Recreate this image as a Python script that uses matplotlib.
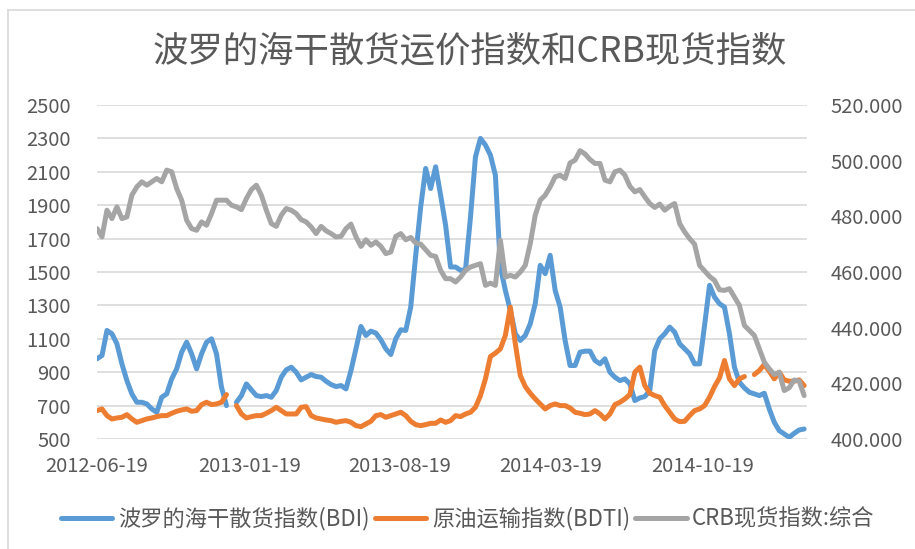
import numpy as np
import pandas as pd
import matplotlib
matplotlib.use("Agg")
import matplotlib.pyplot as plt
import matplotlib.dates as mdates
from matplotlib.lines import Line2D
from matplotlib.ticker import FixedLocator, FuncFormatter

plt.rcParams['font.family'] = ['Noto Sans CJK SC', 'DejaVu Sans']

title = "波罗的海干散货运价指数和CRB现货指数"
series_names = ["波罗的海干散货指数(BDI)", "原油运输指数(BDTI)", "CRB现货指数:综合"]
start_date = "2012-06-19"
x_tick_labels = ["2012-06-19", "2013-01-19", "2013-08-19", "2014-03-19", "2014-10-19"]
x_end_date = "2015-03-14"

nan = np.nan
bdi = [980, 1000, 1150, 1130, 1070, 950, 850, 770, 720, 720,
       710, 680, 660, 750, 770, 860, 920, 1020, 1080, 1010,
       920, 1010, 1080, 1100, 1010, 810, 700, nan, 720, 760,
       830, 794, 760, 754, 760, 750, 790, 870, 914, 930,
       900, 854, 870, 886, 874, 870, 846, 826, 814, 820,
       800, 910, 1040, 1174, 1120, 1146, 1134, 1094, 1040, 1006,
       1100, 1154, 1150, 1290, 1600, 1890, 2120, 2000, 2130, 1960,
       1780, 1530, 1530, 1510, 1514, 1830, 2190, 2300, 2260, 2200,
       2080, 1530, 1390, 1270, 1130, 1090, 1120, 1190, 1310, 1540,
       1490, 1600, 1390, 1290, 1090, 940, 940, 1020, 1026, 1026,
       970, 950, 980, 900, 870, 850, 860, 830, 730, 746,
       754, 790, 1030, 1100, 1130, 1170, 1140, 1070, 1040, 1010,
       950, 950, 1180, 1420, 1350, 1310, 1290, 1130, 930, 840,
       806, 780, 770, 760, 774, 680, 600, 550, 530, 510,
       534, 554, 560]

bdti = [670, 680, 640, 620, 626, 630, 646, 620, 600, 610,
        620, 626, 634, 640, 640, 654, 666, 674, 680, 666,
        670, 706, 720, 706, 710, 720, 766, nan, 700, 650,
        626, 634, 640, 640, 654, 670, 690, 670, 650, 650,
        650, 690, 694, 640, 626, 620, 614, 610, 600, 606,
        610, 600, 580, 574, 590, 606, 640, 646, 630, 640,
        650, 660, 640, 606, 586, 580, 586, 594, 594, 614,
        600, 610, 640, 634, 650, 660, 690, 760, 860, 994,
        1014, 1040, 1120, 1290, 1070, 880, 814, 774, 740, 710,
        680, 700, 710, 700, 700, 686, 660, 654, 646, 650,
        670, 650, 620, 650, 706, 720, 740, 766, 900, 930,
        820, 774, 760, 750, 700, 660, 620, 604, 606, 640,
        670, 680, 700, 750, 814, 866, 970, 860, 820, 860,
        874, nan, 886, 910, 946, 906, 860, 900, 854, 846,
        846, 854, 820]

crb = [475.6, 472.6, 482.2, 479.2, 483.4, 479.2, 479.8, 487.6, 490.6, 492.4,
       491.2, 492.4, 493.6, 492.4, 496.6, 496.0, 490.0, 485.8, 478.6, 475.6,
       475.0, 478.0, 476.8, 481.0, 485.8, 485.8, 485.8, 484.0, 483.4, 482.4,
       486.4, 489.6, 491.2, 487.6, 482.2, 477.4, 476.4, 480.4, 482.8, 482.2,
       481.0, 478.8, 478.0, 476.2, 473.8, 476.4, 474.8, 473.8, 472.6, 472.8,
       475.6, 477.2, 472.6, 469.2, 471.6, 469.6, 470.8, 469.2, 466.6, 467.2,
       472.8, 473.8, 471.6, 472.4, 470.4, 470.0, 468.0, 466.0, 465.6, 460.6,
       457.6, 457.6, 456.4, 458.2, 460.6, 461.8, 462.4, 463.0, 455.2, 456.0,
       455.2, 471.4, 458.2, 458.8, 458.2, 460.0, 462.4, 470.2, 480.4, 485.8,
       487.6, 490.6, 494.2, 494.8, 493.6, 499.2, 500.2, 503.6, 502.4, 500.4,
       499.0, 499.0, 493.0, 492.4, 496.0, 496.6, 494.8, 490.8, 488.8, 489.6,
       487.0, 484.6, 483.2, 484.4, 482.2, 483.6, 484.6, 477.4, 474.4, 472.0,
       470.0, 462.4, 460.4, 458.4, 457.0, 453.6, 453.4, 454.0, 451.0, 448.0,
       440.8, 439.0, 437.2, 432.4, 427.6, 425.2, 423.2, 424.0, 417.4, 418.4,
       421.2, 420.8, 415.6]

left_ticks = [500, 700, 900, 1100, 1300, 1500, 1700, 1900, 2100, 2300, 2500]
right_ticks = [400, 420, 440, 460, 480, 500, 520]

colors = ["#5B9BD5", "#ED7D31", "#A5A5A5"]
text_color = "#595959"
grid_color = "#D9D9D9"

dates = pd.date_range(start_date, periods=len(bdi), freq="7D")

W, H = 915, 549
fig = plt.figure(figsize=(W / 100, H / 100), dpi=100)
ax = fig.add_axes([97 / W, 1 - 439 / H, 710 / W, 334 / H])
ax2 = ax.twinx()

lw = 3.6
l1, = ax.plot(dates, bdi, color=colors[0], lw=lw, solid_capstyle="round",
              solid_joinstyle="round", label=series_names[0])
l2, = ax.plot(dates, bdti, color=colors[1], lw=lw, solid_capstyle="round",
              solid_joinstyle="round", label=series_names[1])
l3, = ax2.plot(dates, crb, color=colors[2], lw=lw, solid_capstyle="round",
               solid_joinstyle="round", label=series_names[2])

ax.set_ylim(500, 2500)
ax2.set_ylim(400, 520)
ax.set_yticks(left_ticks)
ax2.set_yticks(right_ticks)
ax2.yaxis.set_major_formatter(FuncFormatter(lambda v, p: f"{v:.3f}"))

xt = [mdates.date2num(pd.Timestamp(s)) for s in x_tick_labels]
ax.set_xlim(mdates.date2num(pd.Timestamp(start_date)), mdates.date2num(pd.Timestamp(x_end_date)))
ax.xaxis.set_major_locator(FixedLocator(xt))
ax.set_xticklabels(x_tick_labels)

ax.yaxis.grid(True, color=grid_color, lw=1.2)
ax.set_axisbelow(True)
for a in (ax, ax2):
    for s in a.spines.values():
        s.set_visible(False)

ax.tick_params(axis="y", length=0, pad=19, labelsize=14.5, labelcolor=text_color)
ax.tick_params(axis="x", length=0, pad=12, labelsize=14.5, labelcolor=text_color)
ax2.tick_params(axis="y", length=0, pad=17, labelsize=14.5, labelcolor=text_color)

fig.text(470 / W, 1 - 51 / H, title, ha="center", va="center",
         fontsize=25.5, color=text_color, fontweight="light")

fig.legend([l1, l2, l3], series_names, loc="center",
           bbox_to_anchor=(468 / W, 1 - 519 / H), ncol=3, frameon=False,
           fontsize=16, handlelength=2.3, handletextpad=0.25,
           columnspacing=0.25, labelcolor=text_color)

# chart area border (left and top visible)
fig.add_artist(Line2D([8 / W, 8 / W], [0, 1 - 10 / H], transform=fig.transFigure,
                      color=grid_color, lw=1.2))
fig.add_artist(Line2D([8 / W, 1], [1 - 10 / H, 1 - 10 / H], transform=fig.transFigure,
                      color=grid_color, lw=1.2))

fig.savefig("out.png", dpi=100)
